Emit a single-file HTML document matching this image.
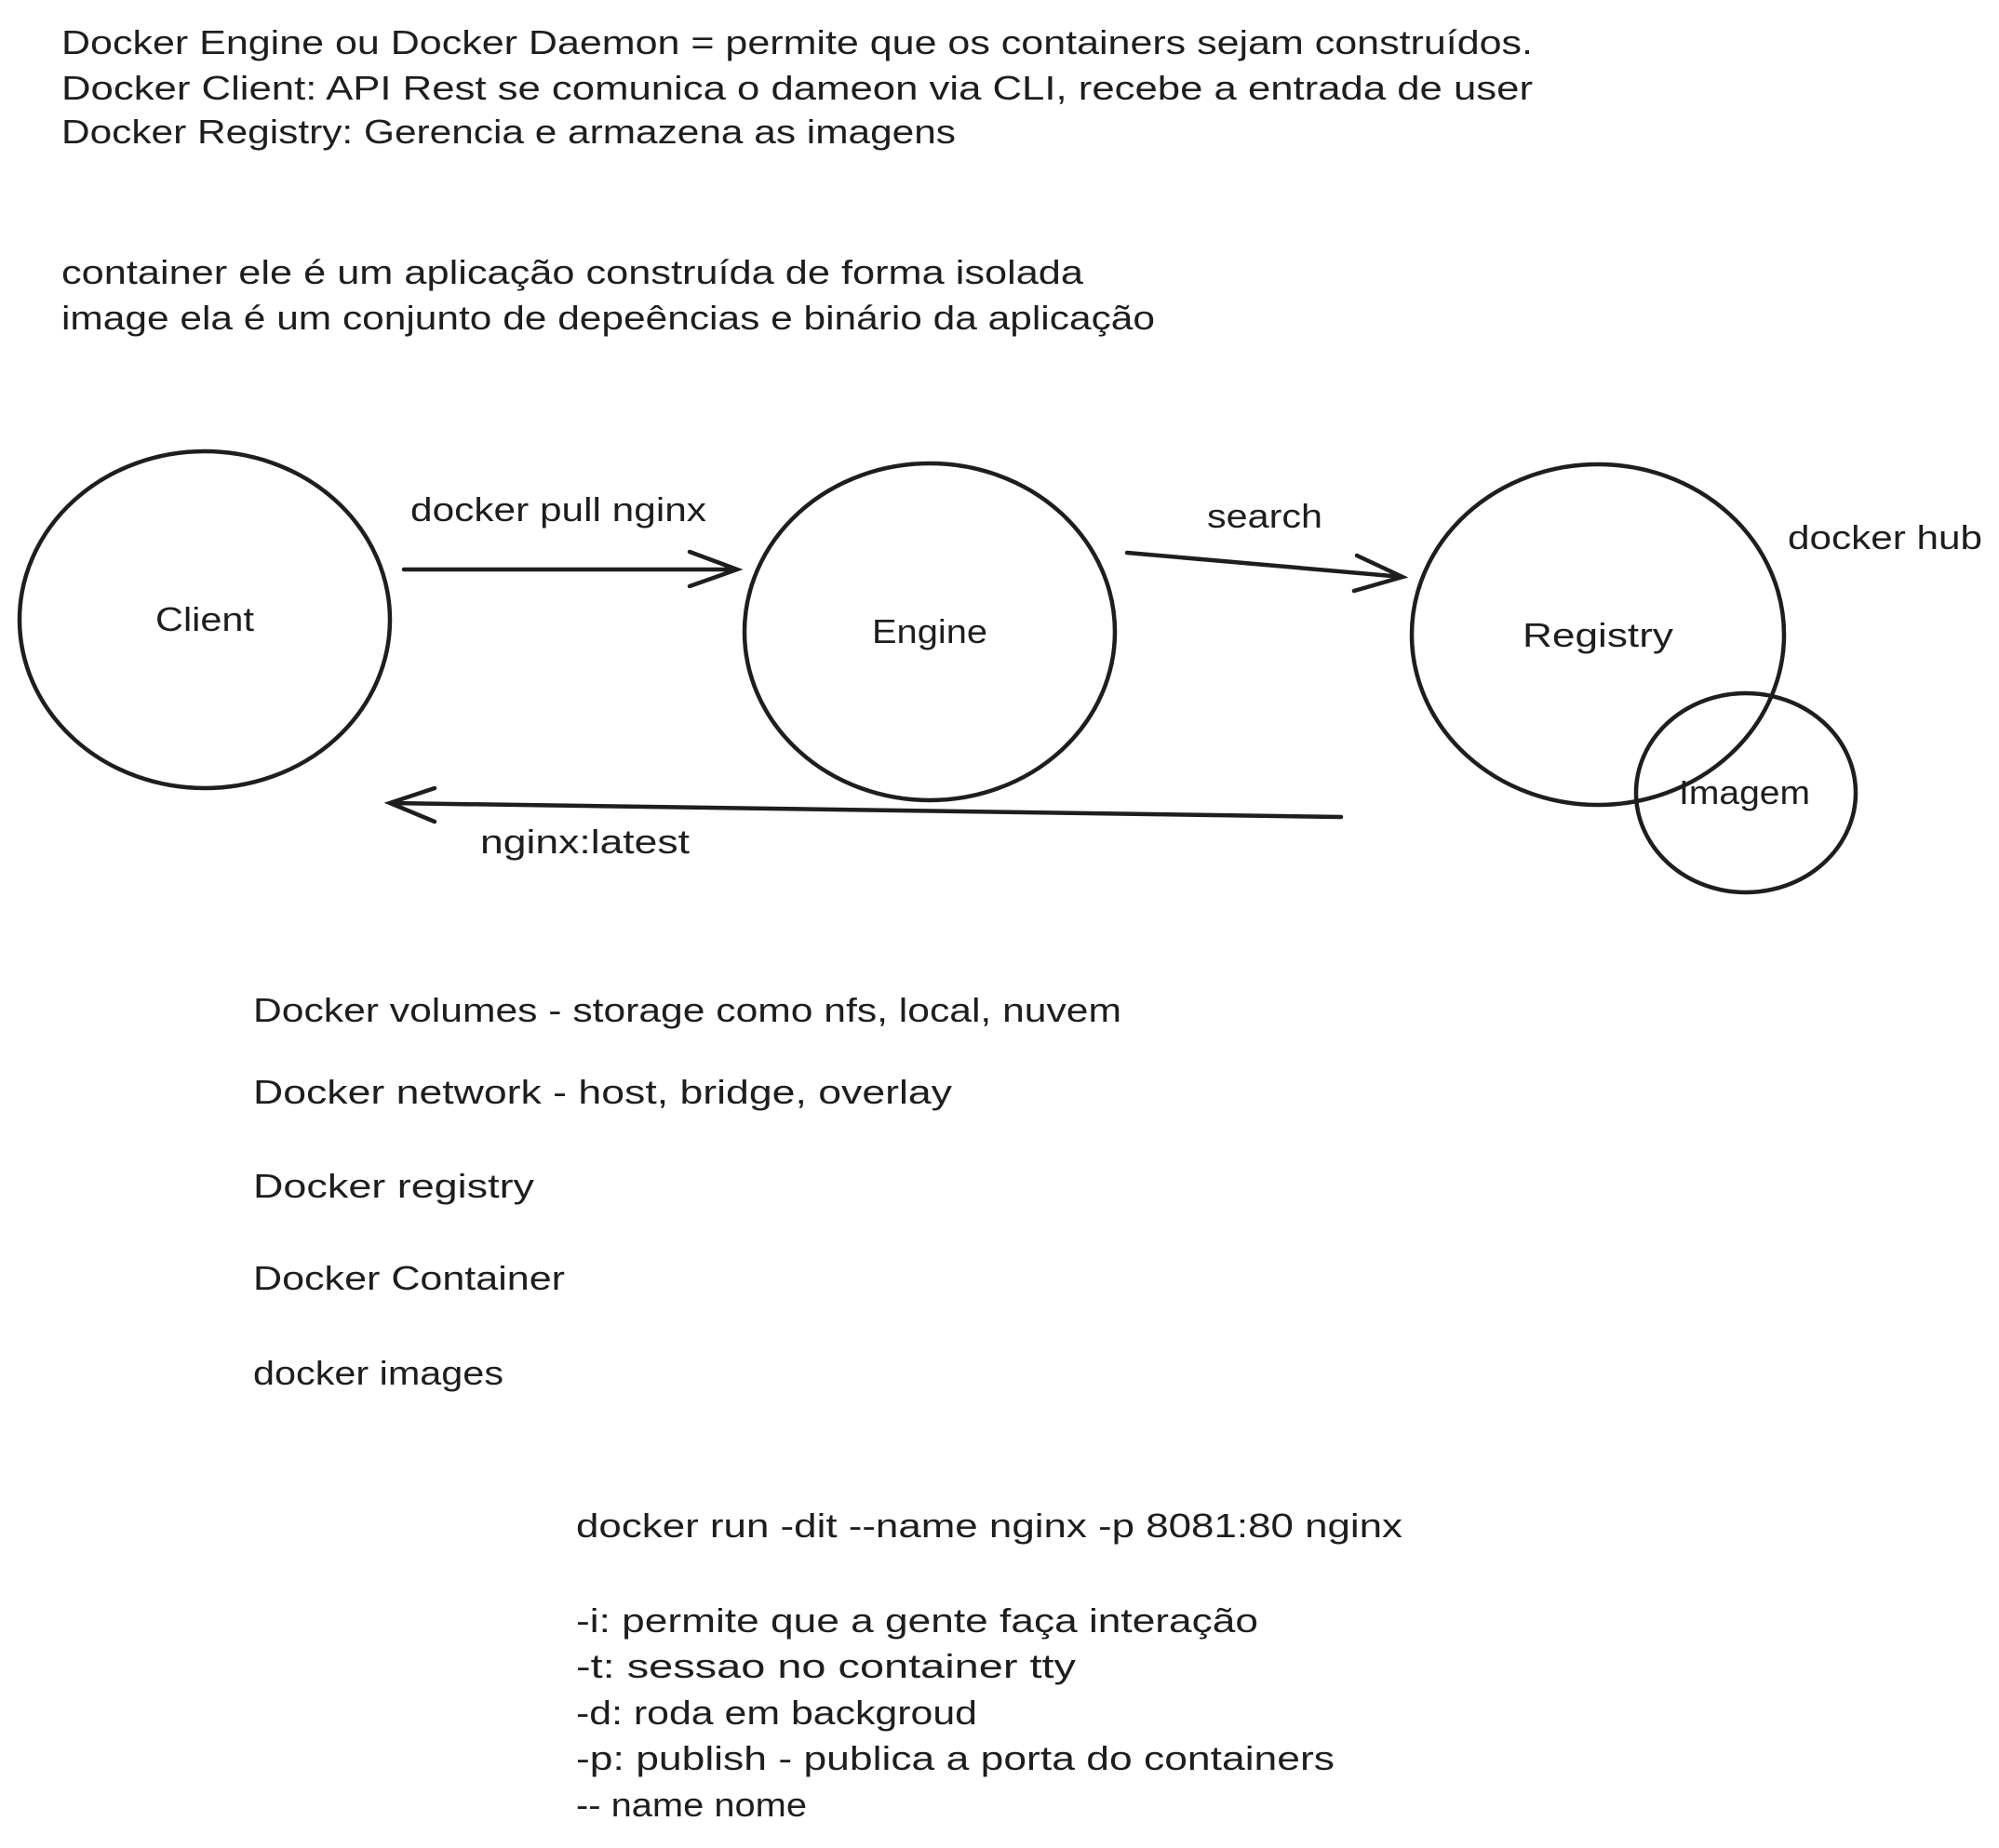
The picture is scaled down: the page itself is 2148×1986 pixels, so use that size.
<!DOCTYPE html>
<html><head><meta charset="utf-8"><style>
html,body{margin:0;padding:0;background:#fff}
svg{display:block}
text{font-family:"Liberation Sans",sans-serif;font-size:36px;fill:#1e1e1e}
</style></head><body>
<svg width="2148" height="1986" viewBox="0 0 2148 1986" xmlns="http://www.w3.org/2000/svg">
<text x="66" y="58" textLength="1581" lengthAdjust="spacingAndGlyphs">Docker Engine ou Docker Daemon = permite que os containers sejam construídos.</text>
<text x="66" y="107" textLength="1581" lengthAdjust="spacingAndGlyphs">Docker Client: API Rest se comunica o dameon via CLI, recebe a entrada de user</text>
<text x="66" y="154" textLength="961" lengthAdjust="spacingAndGlyphs">Docker Registry: Gerencia e armazena as imagens</text>
<text x="66" y="305" textLength="1098" lengthAdjust="spacingAndGlyphs">container ele é um aplicação construída de forma isolada</text>
<text x="66" y="354" textLength="1175" lengthAdjust="spacingAndGlyphs">image ela é um conjunto de depeências e binário da aplicação</text>
<g fill="none" stroke="#1e1e1e" stroke-width="4.5" stroke-linecap="round">
<ellipse cx="220" cy="666" rx="199" ry="181"/>
<ellipse cx="999" cy="679" rx="199" ry="181"/>
<ellipse cx="1717" cy="682" rx="200" ry="183"/>
<ellipse cx="1876" cy="852" rx="118" ry="107"/>
<path d="M434 612 L792 612 M741 593 L792 612 L741 630"/>
<path d="M1211 594 L1507 620 M1458 597 L1507 620 L1455 635"/>
<path d="M1441 878 L419 863 M467 847 L419 863 L467 883"/>
</g>
<text x="167" y="678" textLength="106" lengthAdjust="spacingAndGlyphs">Client</text>
<text x="937" y="691" textLength="124" lengthAdjust="spacingAndGlyphs">Engine</text>
<text x="1636" y="695" textLength="162" lengthAdjust="spacingAndGlyphs">Registry</text>
<text x="1804" y="864" textLength="141" lengthAdjust="spacingAndGlyphs">Imagem</text>
<text x="1921" y="590" textLength="209" lengthAdjust="spacingAndGlyphs">docker hub</text>
<text x="441" y="560" textLength="318" lengthAdjust="spacingAndGlyphs">docker pull nginx</text>
<text x="1297" y="567" textLength="124" lengthAdjust="spacingAndGlyphs">search</text>
<text x="516" y="917" textLength="225" lengthAdjust="spacingAndGlyphs">nginx:latest</text>
<text x="272" y="1098" textLength="933" lengthAdjust="spacingAndGlyphs">Docker volumes - storage como nfs, local, nuvem</text>
<text x="272" y="1186" textLength="751" lengthAdjust="spacingAndGlyphs">Docker network - host, bridge, overlay</text>
<text x="272" y="1287" textLength="302" lengthAdjust="spacingAndGlyphs">Docker registry</text>
<text x="272" y="1386" textLength="335" lengthAdjust="spacingAndGlyphs">Docker Container</text>
<text x="272" y="1488" textLength="269" lengthAdjust="spacingAndGlyphs">docker images</text>
<text x="619" y="1652" textLength="888" lengthAdjust="spacingAndGlyphs">docker run -dit --name nginx -p 8081:80 nginx</text>
<text x="619" y="1754" textLength="733" lengthAdjust="spacingAndGlyphs">-i: permite que a gente faça interação</text>
<text x="619" y="1803" textLength="537" lengthAdjust="spacingAndGlyphs">-t: sessao no container tty</text>
<text x="619" y="1853" textLength="431" lengthAdjust="spacingAndGlyphs">-d: roda em backgroud</text>
<text x="619" y="1902" textLength="815" lengthAdjust="spacingAndGlyphs">-p: publish - publica a porta do containers</text>
<text x="619" y="1952" textLength="248" lengthAdjust="spacingAndGlyphs">-- name nome</text>
</svg>
</body></html>
